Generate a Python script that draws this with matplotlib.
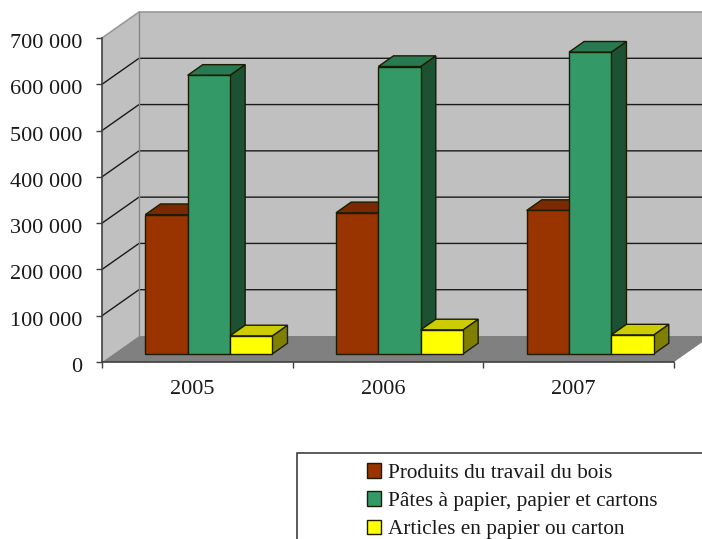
import matplotlib
matplotlib.use("Agg")
import matplotlib.pyplot as plt
import numpy as np
from matplotlib.patches import Polygon, Rectangle
from matplotlib.ticker import FuncFormatter
from matplotlib.transforms import ScaledTranslation

years = ["2005", "2006", "2007"]
series_names = ["Produits du travail du bois", "Pâtes à papier, papier et cartons", "Articles en papier ou carton"]
bois = [301000, 305000, 310000]
pates = [602000, 621000, 652000]
articles = [39000, 52000, 41000]
y_ticks = [0, 100000, 200000, 300000, 400000, 500000, 600000, 700000]

front_colors = ["#993300", "#339966", "#ffff00"]
top_colors = ["#7a2900", "#287a52", "#cccc00"]
side_colors = ["#5c1f00", "#1c5233", "#808000"]

W, H = 702, 539
plt.rcParams["font.family"] = ["Liberation Serif", "DejaVu Serif"]

fig = plt.figure(figsize=(W / 100, H / 100), dpi=100)
ax = fig.add_axes([102 / W, 1 - 362 / H, (674 - 102) / W, (362 - 38) / H])
ax.set_xlim(0, 3)
ax.set_ylim(0, 700000)

# oblique offset of the full chart depth, in data units
DX = 37 / (572 / 3)
DY = 26 / (324 / 7) * 100000


def pt(x, y, d=0.0):
    return (x + d * DX, y + d * DY)


def face(points, fc, ec="none", lw=0.0, z=1):
    ax.add_patch(Polygon(points, closed=True, facecolor=fc, edgecolor=ec, linewidth=lw,
                         clip_on=False, zorder=z, joinstyle="miter"))


# walls and floor
face([pt(0, 0), pt(0, 700000), pt(0, 700000, 1), pt(0, 0, 1)], "#c0c0c0")
face([pt(0, 0, 1), pt(0, 700000, 1), pt(3, 700000, 1), pt(3, 0, 1)], "#c0c0c0")
face([pt(0, 0), pt(3, 0), pt(3, 0, 1), pt(0, 0, 1)], "#808080")

for v in y_ticks[1:-1]:
    xs, ys = zip(pt(0, v), pt(0, v, 1), pt(3, v, 1))
    ax.plot(xs, ys, color="#1a1a1a", lw=1.0, clip_on=False, zorder=2)
xs, ys = zip(pt(0, 700000), pt(0, 700000, 1), pt(3, 700000, 1))
ax.plot(xs, ys, color="#9a9a9a", lw=1.2, clip_on=False, zorder=2)
xs, ys = zip(pt(0, 0, 1), pt(0, 700000, 1))
ax.plot(xs, ys, color="#808890", lw=1.0, clip_on=False, zorder=2)

# bars
bar_w = 0.222
d0, d1 = 0.31, 0.72
z = 3
for i in range(len(years)):
    left = i + 0.5 - 1.5 * bar_w
    for j, vals in enumerate([bois, pates, articles]):
        x0 = left + j * bar_w
        x1 = x0 + bar_w
        v = vals[i]
        ec = "#1c1c00"
        face([pt(x1, 0, d0), pt(x1, v, d0), pt(x1, v, d1), pt(x1, 0, d1)], side_colors[j], ec, 1.0, z)
        face([pt(x0, v, d0), pt(x1, v, d0), pt(x1, v, d1), pt(x0, v, d1)], top_colors[j], ec, 1.0, z)
        face([pt(x0, 0, d0), pt(x1, 0, d0), pt(x1, v, d0), pt(x0, v, d0)], front_colors[j], ec, 1.0, z)
        z += 1

# axes
for s in ["top", "right"]:
    ax.spines[s].set_visible(False)
for s in ["left", "bottom"]:
    ax.spines[s].set_color("#404040")
    ax.spines[s].set_linewidth(1.2)
    ax.spines[s].set_zorder(30)
ax.patch.set_visible(False)

ax.set_yticks(y_ticks)
ax.yaxis.set_major_formatter(FuncFormatter(lambda v, p: f"{v:,.0f}".replace(",", " ")))
ax.tick_params(axis="y", length=4.5, width=1.0, color="#404040", labelsize=16, pad=9.6, labelcolor="#1a1a1a")
# labels sit a little under their ticks in the original
for lab in ax.get_yticklabels():
    lab.set_transform(lab.get_transform() + ScaledTranslation(0, -3 / 100, fig.dpi_scale_trans))

ax.set_xticks([0, 1, 2, 3])
ax.set_xticklabels([])
ax.tick_params(axis="x", which="major", length=4.5, width=1.0, color="#404040")
ax.set_xticks(np.arange(3) + 0.5 - 0.027, minor=True)
ax.set_xticklabels(years, minor=True)
ax.tick_params(axis="x", which="minor", length=0, labelsize=16, pad=13, labelcolor="#1a1a1a")

# legend box runs off the page on the right and at the bottom
fig.add_artist(Rectangle((297 / W, -20 / H), 450 / W, (539 - 453 + 20) / H, transform=fig.transFigure,
                         facecolor="white", edgecolor="#404040", linewidth=1.2))
handles = [Rectangle((0, 0), 1, 1, facecolor=c, edgecolor="#1c1c00", linewidth=1.0) for c in front_colors]
fig.legend(handles, series_names, loc="upper left", bbox_to_anchor=(361 / W, 1 - 457 / H), frameon=False,
           fontsize=15.3, handlelength=0.66, handleheight=0.66, handletextpad=0.33, labelspacing=0.40,
           labelcolor="#1a1a1a", borderpad=0.3, borderaxespad=0)

fig.savefig("out.png", dpi=100)
